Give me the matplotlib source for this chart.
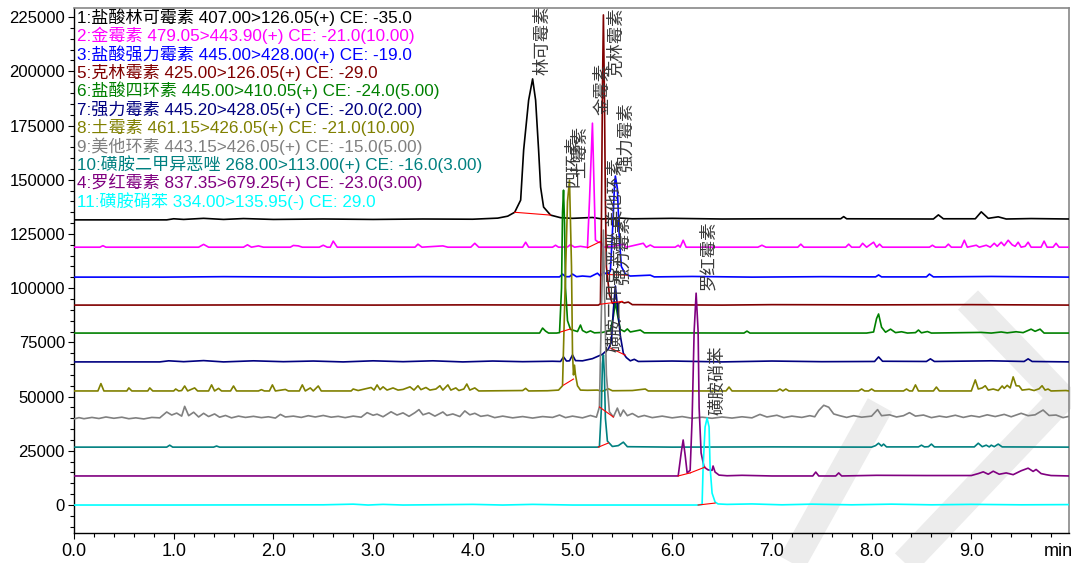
import matplotlib
matplotlib.use("Agg")
import matplotlib.pyplot as plt
from matplotlib.lines import Line2D
from matplotlib.ticker import MultipleLocator

# ---- data (time [min], intensity) ----
legend_labels = [
    "1:盐酸林可霉素 407.00>126.05(+) CE: -35.0",
    "2:金霉素 479.05>443.90(+) CE: -21.0(10.00)",
    "3:盐酸强力霉素 445.00>428.00(+) CE: -19.0",
    "5:克林霉素 425.00>126.05(+) CE: -29.0",
    "6:盐酸四环素 445.00>410.05(+) CE: -24.0(5.00)",
    "7:强力霉素 445.20>428.05(+) CE: -20.0(2.00)",
    "8:土霉素 461.15>426.05(+) CE: -21.0(10.00)",
    "9:美他环素 443.15>426.05(+) CE: -15.0(5.00)",
    "10:磺胺二甲异恶唑 268.00>113.00(+) CE: -16.0(3.00)",
    "4:罗红霉素 837.35>679.25(+) CE: -23.0(3.00)",
    "11:磺胺硝苯 334.00>135.95(-) CE: 29.0",
]
trace_colors = ["#000000", "#ff00ff", "#0000ff", "#800000", "#008000", "#000080",
                "#808000", "#808080", "#008080", "#800080", "#00ffff"]

trace_1 = [(0.00, 131500), (0.93, 131500), (1.00, 132000), (1.10, 131700), (1.30, 132200), (1.50, 131700),
           (1.70, 132100), (2.00, 131700), (2.50, 131900), (3.00, 131700), (3.50, 131900), (4.00, 131800),
           (4.25, 132300), (4.35, 133200), (4.42, 135000), (4.48, 140600), (4.51, 163700), (4.56, 186700),
           (4.60, 196500), (4.63, 186700), (4.66, 163700), (4.68, 146600), (4.71, 137400), (4.78, 133700),
           (4.88, 132500), (5.00, 132200), (5.20, 132600), (5.30, 131900), (5.45, 132400), (5.60, 132000),
           (6.00, 132200), (6.50, 131900), (7.00, 132000), (7.69, 132000), (7.72, 133000), (7.75, 132000),
           (8.62, 131900), (8.67, 133800), (8.72, 132000), (9.04, 132000), (9.10, 135200), (9.17, 132200),
           (9.27, 132900), (9.35, 131900), (9.60, 132100), (9.98, 131900)]

trace_2 = [(0.00, 118900), (0.26, 118900), (0.29, 119600), (0.32, 118900), (1.25, 118900), (1.30, 120200),
           (1.35, 118900), (1.70, 118900), (1.74, 120000), (1.78, 118900), (1.85, 119500), (1.90, 118900),
           (2.17, 118900), (2.20, 119700), (2.25, 119500), (2.29, 118900), (2.46, 118900), (2.50, 119800),
           (2.54, 118900), (2.57, 118900), (2.60, 121700), (2.64, 118900), (3.42, 118900), (3.45, 120300),
           (3.49, 118900), (3.70, 119500), (3.75, 118900), (3.98, 118900), (4.02, 120700), (4.06, 118900),
           (4.50, 118900), (4.53, 121200), (4.56, 118900), (4.80, 118900), (4.83, 119800), (4.86, 118900),
           (4.95, 119000), (4.98, 120100), (5.02, 118900), (5.08, 119300), (5.15, 118800), (5.17, 140000),
           (5.20, 176100), (5.22, 140000), (5.23, 122200), (5.26, 121200), (5.29, 121000), (5.31, 118900),
           (5.40, 119200), (5.51, 120300), (5.54, 118900), (5.71, 120700), (5.74, 118900), (5.78, 119900),
           (5.82, 118900), (6.03, 118900), (6.06, 119800), (6.08, 118900), (6.11, 122100), (6.14, 118900),
           (6.86, 118900), (6.90, 119800), (6.94, 118900), (7.26, 118900), (7.29, 120300), (7.32, 118900),
           (7.74, 118900), (7.77, 120300), (7.80, 118900), (7.88, 118900), (7.91, 120700), (7.95, 118900),
           (8.02, 121200), (8.05, 118900), (8.08, 120300), (8.11, 118900), (8.58, 118900), (8.61, 119800),
           (8.64, 118900), (8.74, 118900), (8.77, 120300), (8.80, 118900), (8.90, 118900), (8.93, 122100),
           (8.96, 118900), (9.05, 119800), (9.08, 118900), (9.15, 119800), (9.19, 118900), (9.23, 120700),
           (9.26, 119300), (9.30, 121200), (9.33, 119600), (9.37, 122100), (9.41, 120000), (9.44, 119300),
           (9.47, 121200), (9.50, 118900), (9.54, 119300), (9.57, 121200), (9.60, 118900), (9.70, 118900),
           (9.73, 121700), (9.76, 118900), (9.82, 118900), (9.85, 120700), (9.88, 118900), (9.98, 118900)]

trace_3 = [(0.00, 105100), (0.90, 105100), (1.50, 105300), (2.50, 105100), (3.50, 105300), (4.50, 105200),
           (4.87, 105200), (4.90, 106500), (4.93, 105300), (4.97, 105300), (5.00, 106500), (5.04, 105300),
           (5.10, 105600), (5.18, 105300), (5.25, 106900), (5.28, 105600), (5.31, 107400), (5.35, 106300),
           (5.38, 108000), (5.40, 125000), (5.42, 146000), (5.43, 151700), (5.45, 146000), (5.47, 123000),
           (5.49, 110000), (5.53, 106500), (5.58, 105600), (5.78, 106000), (5.82, 105200), (6.20, 105400),
           (6.80, 105100), (7.50, 105300), (8.04, 105200), (8.07, 106100), (8.10, 105200), (8.55, 105200),
           (8.58, 106500), (8.62, 105200), (9.20, 105400), (9.98, 105100)]

trace_5 = [(0.00, 92200), (1.00, 92200), (2.00, 92300), (3.00, 92200), (4.00, 92300), (5.00, 92200),
           (5.26, 92200), (5.28, 92800), (5.29, 130000), (5.30, 190000), (5.31, 226000), (5.32, 190000),
           (5.33, 140000), (5.34, 110000), (5.37, 97000), (5.40, 93000), (5.46, 93000), (5.49, 93800),
           (5.52, 93200), (5.56, 93600), (5.60, 92400), (6.00, 92300), (6.50, 92200), (7.00, 92400),
           (8.00, 92300), (9.00, 92400), (9.50, 92300), (9.98, 92200)]

trace_6 = [(0.00, 79300), (1.00, 79300), (2.00, 79300), (3.00, 79300), (4.00, 79300), (4.67, 79300),
           (4.70, 81600), (4.73, 80200), (4.76, 79300), (4.84, 79300), (4.87, 79500), (4.89, 100000),
           (4.90, 135000), (4.91, 145200), (4.92, 130000), (4.93, 100000), (4.95, 85000), (4.98, 81000),
           (5.05, 80000), (5.08, 83000), (5.10, 80500), (5.14, 79500), (5.18, 80300), (5.22, 79400),
           (5.30, 79600), (5.38, 80500), (5.41, 87000), (5.43, 93600), (5.45, 88000), (5.48, 81000),
           (5.52, 80000), (5.55, 81200), (5.58, 79800), (5.68, 80700), (5.72, 79400), (6.72, 79300),
           (6.75, 80200), (6.78, 79300), (7.95, 79300), (8.02, 79800), (8.05, 86000), (8.07, 88100),
           (8.10, 82000), (8.14, 79700), (8.19, 81100), (8.24, 79500), (8.30, 79900), (8.36, 79300),
           (8.44, 79500), (8.47, 80700), (8.50, 79400), (8.56, 80000), (8.60, 79300), (9.10, 79600),
           (9.20, 79300), (9.30, 79800), (9.36, 79400), (9.45, 79900), (9.52, 79500), (9.60, 81100),
           (9.64, 80100), (9.69, 81100), (9.73, 79300), (9.98, 79300)]

trace_7 = [(0.00, 66000), (0.86, 66000), (0.95, 66500), (1.10, 66100), (1.30, 66600), (1.50, 66000),
           (1.80, 66500), (2.10, 66100), (2.40, 66400), (2.70, 66000), (3.00, 66500), (3.30, 66100),
           (3.60, 66500), (3.90, 66000), (4.20, 66400), (4.50, 66100), (4.80, 66300), (4.88, 66200),
           (4.91, 68300), (4.94, 66400), (4.97, 66500), (5.00, 69200), (5.03, 66600), (5.10, 66500),
           (5.20, 67500), (5.30, 69500), (5.36, 72000), (5.39, 75000), (5.41, 90000), (5.43, 101000),
           (5.45, 92000), (5.48, 78000), (5.51, 70000), (5.54, 68000), (5.58, 66500), (5.62, 67200),
           (5.66, 66200), (6.00, 66400), (6.50, 66000), (7.00, 66400), (7.50, 66100), (8.03, 66200),
           (8.07, 68300), (8.11, 66300), (8.55, 66200), (8.59, 67400), (8.63, 66200), (9.20, 66500),
           (9.53, 66200), (9.57, 67400), (9.61, 66200), (9.98, 66000)]

trace_8 = [(0.00, 52600), (0.24, 52600), (0.27, 56000), (0.30, 52600), (0.53, 52600), (0.55, 54000),
           (0.58, 52600), (0.74, 52600), (0.76, 54000), (0.79, 52600), (1.00, 52600), (1.02, 53500),
           (1.05, 52600), (1.08, 52800), (1.11, 54900), (1.14, 52600), (1.21, 54000), (1.24, 52600),
           (1.35, 52600), (1.38, 55400), (1.41, 52600), (1.45, 53800), (1.48, 52600), (1.57, 52600),
           (1.60, 54900), (1.63, 52600), (1.85, 52600), (1.88, 53200), (1.91, 52600), (1.96, 52600),
           (1.99, 55400), (2.02, 52600), (2.12, 53300), (2.15, 52600), (2.26, 52600), (2.29, 55400),
           (2.32, 52600), (2.37, 54000), (2.40, 52600), (2.45, 54900), (2.48, 52600), (2.78, 52600),
           (2.80, 53500), (2.85, 52800), (2.94, 53800), (2.98, 54200), (3.01, 53000), (3.04, 55400),
           (3.07, 53200), (3.10, 54500), (3.14, 53000), (3.20, 54000), (3.25, 53000), (3.30, 53300),
           (3.37, 54500), (3.41, 53000), (3.45, 55000), (3.48, 53200), (3.53, 54200), (3.57, 53000),
           (3.63, 53500), (3.67, 55000), (3.70, 53000), (3.75, 55400), (3.78, 53000), (3.83, 54000),
           (3.86, 52800), (3.91, 53500), (3.94, 55800), (3.97, 53000), (4.02, 54000), (4.06, 52600),
           (4.50, 52800), (4.53, 53800), (4.56, 52600), (4.75, 52700), (4.86, 53000), (4.90, 55000),
           (4.92, 90000), (4.95, 140000), (4.97, 149800), (4.99, 110000), (5.00, 70000), (5.01, 60000),
           (5.02, 64500), (5.03, 60000), (5.05, 55000), (5.08, 53000), (5.15, 52900), (5.25, 53000),
           (5.30, 52500), (5.36, 53600), (5.40, 52700), (5.60, 52800), (5.73, 53500), (5.76, 52600),
           (6.54, 52600), (6.57, 54400), (6.60, 52600), (7.05, 52600), (7.08, 53500), (7.11, 52600),
           (7.14, 53500), (7.17, 52600), (7.87, 52600), (7.90, 53500), (7.93, 52600), (7.97, 52600),
           (8.00, 53500), (8.03, 52600), (8.32, 52600), (8.35, 53500), (8.38, 52600), (8.41, 52600),
           (8.44, 55400), (8.47, 52600), (8.62, 52600), (8.65, 54400), (8.68, 52600), (9.00, 52600),
           (9.04, 57700), (9.07, 53500), (9.11, 54000), (9.14, 55000), (9.17, 53000), (9.22, 53500),
           (9.27, 52800), (9.31, 54900), (9.33, 53800), (9.36, 55200), (9.39, 54000), (9.42, 59100),
           (9.45, 55000), (9.48, 54900), (9.51, 53000), (9.58, 53400), (9.63, 52800), (9.68, 53600),
           (9.71, 55000), (9.74, 53000), (9.77, 53500), (9.80, 52600), (9.95, 52800), (9.98, 52600)]

trace_9 = [(0.00, 39700), (0.05, 40300), (0.10, 39800), (0.18, 40400), (0.25, 39900), (0.32, 40600),
           (0.40, 40000), (0.48, 40500), (0.55, 39800), (0.62, 40200), (0.70, 39700), (0.78, 40400),
           (0.86, 40200), (0.93, 42900), (0.98, 41500), (1.03, 42400), (1.08, 41000), (1.11, 45500),
           (1.15, 41200), (1.20, 42800), (1.25, 40600), (1.30, 42300), (1.35, 40800), (1.41, 42000),
           (1.46, 40500), (1.52, 41300), (1.58, 40200), (1.65, 41000), (1.72, 40400), (1.80, 40900),
           (1.88, 40300), (1.95, 40700), (2.02, 40100), (2.07, 41800), (2.12, 40600), (2.20, 41000),
           (2.28, 40400), (2.35, 41200), (2.42, 40600), (2.50, 41300), (2.58, 40500), (2.65, 40900),
           (2.72, 40300), (2.80, 41000), (2.88, 40500), (2.94, 42600), (3.00, 41400), (3.04, 41900),
           (3.10, 40700), (3.18, 43000), (3.24, 41500), (3.30, 42500), (3.36, 40900), (3.42, 42600),
           (3.46, 44000), (3.50, 41600), (3.56, 42500), (3.62, 41000), (3.70, 42900), (3.74, 41300),
           (3.80, 42000), (3.87, 40800), (3.92, 43400), (3.97, 41600), (4.02, 42300), (4.08, 40900),
           (4.15, 41400), (4.22, 40300), (4.30, 41000), (4.40, 40200), (4.50, 40800), (4.60, 40100),
           (4.70, 40800), (4.80, 40400), (4.87, 41500), (4.93, 40300), (5.00, 41000), (5.10, 40200),
           (5.18, 41300), (5.24, 40500), (5.27, 45200), (5.29, 90000), (5.31, 126800), (5.32, 100000),
           (5.34, 60000), (5.37, 43000), (5.41, 40600), (5.45, 44700), (5.48, 41000), (5.51, 43800),
           (5.55, 41200), (5.60, 42200), (5.66, 40600), (5.72, 41300), (5.80, 40300), (5.90, 41000),
           (6.00, 40200), (6.10, 40800), (6.20, 40000), (6.30, 40500), (6.40, 40000), (6.50, 40600),
           (6.60, 40100), (6.70, 40700), (6.80, 40200), (6.88, 41800), (6.95, 40600), (7.05, 41400),
           (7.12, 40300), (7.20, 41000), (7.30, 40400), (7.38, 41200), (7.43, 40700), (7.47, 43600),
           (7.52, 46000), (7.57, 45100), (7.62, 42000), (7.68, 41200), (7.75, 40400), (7.82, 41200),
           (7.90, 40500), (8.00, 41000), (8.06, 44000), (8.10, 41200), (8.18, 41600), (8.25, 40600),
           (8.32, 41200), (8.38, 42600), (8.44, 41000), (8.52, 41500), (8.60, 40300), (8.68, 41000),
           (8.75, 40500), (8.84, 41400), (8.92, 40400), (9.00, 41200), (9.08, 40600), (9.16, 41600),
           (9.24, 40800), (9.33, 41800), (9.40, 40700), (9.50, 42300), (9.57, 41200), (9.64, 41600),
           (9.72, 43800), (9.78, 41300), (9.85, 41500), (9.92, 40300), (9.98, 40900)]

trace_10 = [(0.00, 26700), (0.93, 26700), (0.96, 27600), (0.99, 26700), (1.40, 26700), (1.43, 27200),
            (1.46, 26700), (3.00, 26700), (4.00, 26800), (5.00, 26700), (5.25, 26700), (5.27, 26900),
            (5.29, 45000), (5.30, 65000), (5.31, 69200), (5.32, 60000), (5.33, 40000), (5.35, 29500),
            (5.37, 28500), (5.40, 27000), (5.46, 27400), (5.51, 29000), (5.55, 26900), (6.00, 26700),
            (7.00, 26800), (8.00, 26700), (8.04, 27400), (8.07, 28500), (8.10, 27200), (8.12, 28100),
            (8.15, 26800), (8.47, 26800), (8.50, 27600), (8.53, 26800), (8.57, 26900), (8.60, 28100),
            (8.63, 26800), (9.03, 26800), (9.07, 28500), (9.11, 26900), (9.15, 27600), (9.18, 26800),
            (9.20, 27600), (9.23, 26900), (9.27, 28100), (9.31, 26800), (9.98, 26700)]

trace_4 = [(0.00, 13400), (2.00, 13400), (4.00, 13400), (6.06, 13400), (6.09, 24000), (6.11, 30000),
           (6.13, 23000), (6.15, 14800), (6.18, 16000), (6.20, 40000), (6.22, 80000), (6.24, 97700),
           (6.26, 80000), (6.27, 45000), (6.29, 24000), (6.32, 17500), (6.36, 16200), (6.40, 16000),
           (6.41, 18000), (6.43, 15200), (6.47, 13800), (6.55, 13500), (6.70, 13700), (7.00, 13400),
           (7.41, 13400), (7.44, 15200), (7.47, 13400), (7.64, 13400), (7.67, 14800), (7.70, 13400),
           (8.05, 13700), (8.55, 13600), (9.00, 13600), (9.07, 14500), (9.12, 15300), (9.17, 14200),
           (9.22, 15600), (9.28, 14200), (9.35, 14800), (9.42, 14000), (9.50, 15800), (9.57, 17000),
           (9.62, 15500), (9.65, 16400), (9.70, 14500), (9.75, 14000), (9.80, 13600), (9.98, 13400)]

trace_11 = [(0.00, 0), (1.00, 0), (2.50, 100), (2.80, 400), (2.95, 0), (3.10, 300), (3.30, 0),
            (4.00, 300), (4.30, 0), (4.60, 300), (5.00, 0), (6.26, 0), (6.30, 300), (6.31, 17500),
            (6.33, 36000), (6.35, 40100), (6.37, 36000), (6.38, 17500), (6.40, 5500), (6.43, 1400),
            (6.46, 500), (6.55, 300), (6.80, 500), (7.10, 100), (7.40, 400), (7.80, 100), (8.20, 400),
            (8.60, 100), (9.00, 300), (9.50, 100), (9.98, 200)]

traces = [trace_1, trace_2, trace_3, trace_5, trace_6, trace_7, trace_8, trace_9, trace_10, trace_4, trace_11]

# integration baselines (red): t0, v0, t1, v1
baseline_segments = [(4.42, 135000, 4.78, 133700), (5.15, 118600, 5.28, 121500),
                     (5.35, 106300, 5.55, 106000), (5.28, 92600, 5.50, 93900),
                     (4.88, 79800, 4.98, 81200), (5.38, 72400, 5.53, 69100),
                     (4.91, 55300, 5.01, 58100), (5.27, 45200, 5.41, 40600),
                     (5.26, 26700, 5.36, 28600), (6.06, 13400, 6.18, 14800),
                     (6.18, 14800, 6.33, 17500), (6.26, 0, 6.43, 900)]

# peak names: left edge time, intensity of label bottom, text
peak_label_t = [4.61, 5.21, 5.35, 4.92, 4.99, 5.45, 5.33, 5.34, 5.42, 6.27, 6.36]
peak_label_v = [198500, 179800, 197300, 146500, 151000, 153500, 128000, 70500, 101500, 99000, 41500]
peak_label_text = ["林可霉素", "金霉素", "克林霉素", "四环素", "土霉素", "强力霉素",
                   "美他环素", "磺胺二甲异恶唑", "强力霉素", "罗红霉素", "磺胺硝苯"]

W, H = 1071, 563
fig = plt.figure(figsize=(W / 100, H / 100), dpi=100)
ax = fig.add_axes([74 / W, 1 - 533 / H, 995 / W, 525 / H])
ax.set_facecolor("none")


def fpx(x, y):
    return x / W, 1 - y / H


# faint watermark in the lower right
wm = "#ececec"
for pts in ([(792, 563), (880, 405)], [(968, 300), (1062, 398), (905, 563)]):
    xs, ys = zip(*[fpx(*p) for p in pts])
    fig.add_artist(Line2D(xs, ys, transform=fig.transFigure, color=wm, lw=20,
                          solid_joinstyle="round", solid_capstyle="butt", zorder=-5))

for trace, color in zip(traces, trace_colors):
    t, v = zip(*trace)
    ax.plot(t, v, color=color, lw=1.2, zorder=3)

for t0, v0, t1, v1 in baseline_segments:
    ax.plot([t0, t1], [v0, v1], color="#ff0000", lw=0.8, zorder=4)

cjk = ["Liberation Sans", "Noto Sans CJK SC"]
for t, v, s in zip(peak_label_t, peak_label_v, peak_label_text):
    ax.text(t, v, s, rotation=90, ha="left", va="bottom", fontsize=12.5,
            family=["Noto Sans CJK SC"], color="#3a3a3a", zorder=5)

for i, (s, color) in enumerate(zip(legend_labels, trace_colors)):
    y_px = 17 + 18.4 * i
    ax.text(3 / 995, (533 - y_px) / 525, s, transform=ax.transAxes, ha="left", va="center",
            fontsize=12.3, family=cjk, color=color, zorder=6)

ax.set_xlim(0, 9.98)
ax.set_ylim(-12900, 229200)
ax.xaxis.set_major_locator(MultipleLocator(1.0))
ax.xaxis.set_minor_locator(MultipleLocator(0.2))
ax.yaxis.set_major_locator(MultipleLocator(25000))
ax.yaxis.set_minor_locator(MultipleLocator(5000))
ax.xaxis.set_major_formatter(lambda x, pos: f"{x:.1f}")
ax.yaxis.set_major_formatter(lambda y, pos: f"{int(y)}")
ax.tick_params(which="both", direction="out", color="black", width=0.8)
ax.tick_params(which="major", length=4.5)
ax.tick_params(which="minor", length=3)
ax.tick_params(axis="y", labelsize=12, pad=2)
ax.tick_params(axis="x", labelsize=13, pad=3)
for lab in ax.get_yticklabels():
    lab.set_family(["Liberation Sans"])
for lab in ax.get_xticklabels():
    lab.set_family(["Liberation Sans Narrow", "Liberation Sans"])

ax.annotate("min", xy=(9.87, 0), xycoords=("data", "axes fraction"), xytext=(0, -7.5),
            textcoords="offset points", ha="center", va="top", fontsize=13,
            family=["Liberation Sans Narrow", "Liberation Sans"])

for side in ("left", "bottom"):
    ax.spines[side].set_color("black")
    ax.spines[side].set_linewidth(1.0)
for side in ("top", "right"):
    ax.spines[side].set_color("#888888")
    ax.spines[side].set_linewidth(1.2)

fig.savefig("out.png", dpi=100)
